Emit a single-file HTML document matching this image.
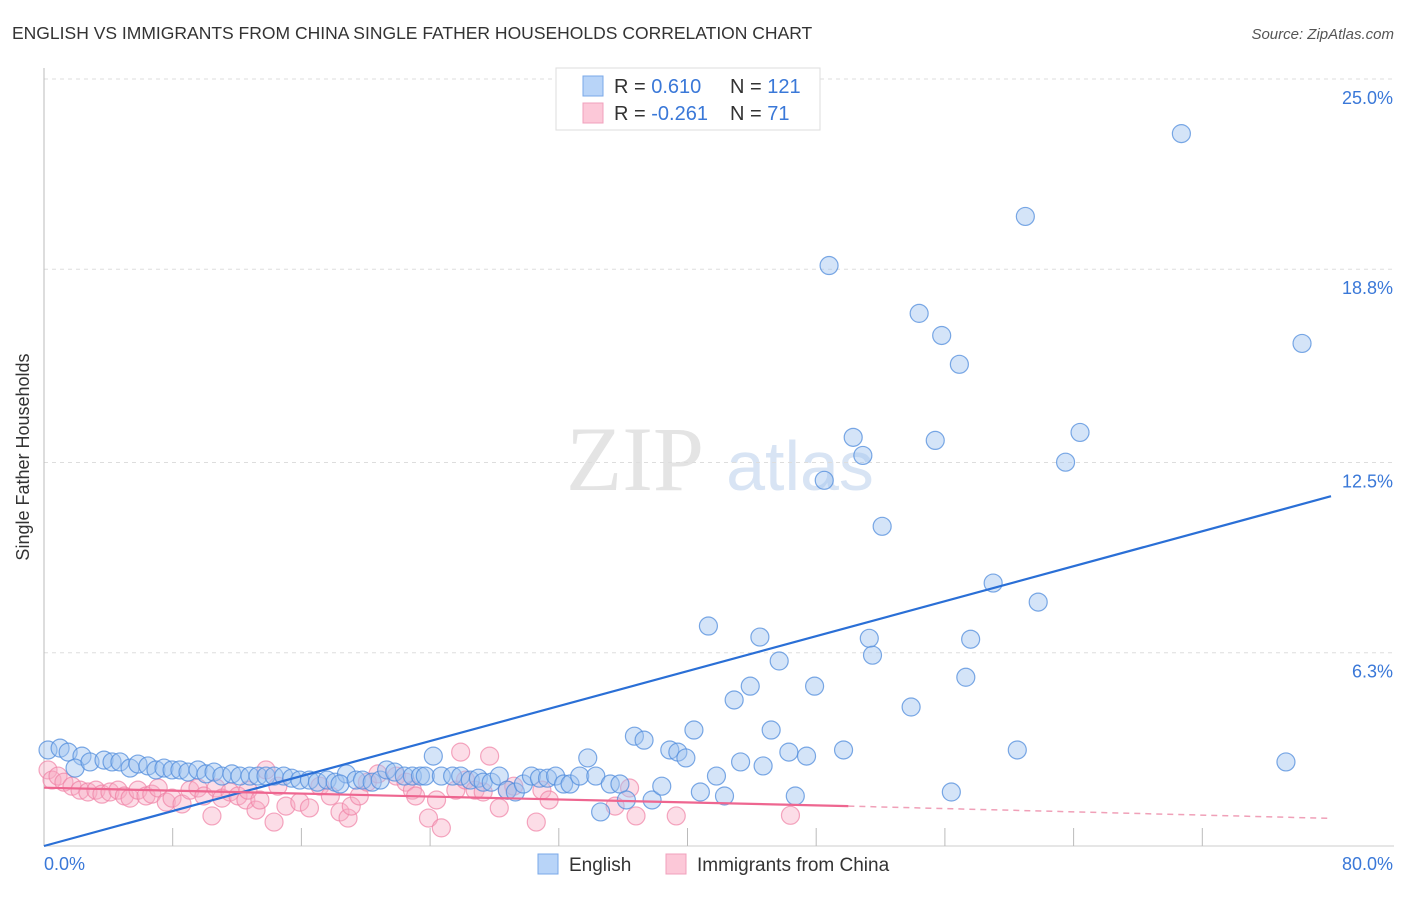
<!DOCTYPE html>
<html><head><meta charset="utf-8"><style>
body{margin:0;background:#fff;font-family:"Liberation Sans",sans-serif}
</style></head><body>
<svg id="chart" width="1406" height="892" xmlns="http://www.w3.org/2000/svg" style="font-family:'Liberation Sans',sans-serif">
<text x="12" y="39" font-size="17.5" fill="#333">ENGLISH VS IMMIGRANTS FROM CHINA SINGLE FATHER HOUSEHOLDS CORRELATION CHART</text>
<text x="1394" y="39" font-size="15" fill="#555" font-style="italic" text-anchor="end">Source: ZipAtlas.com</text>
<text x="29" y="457" font-size="18" fill="#333" text-anchor="middle" transform="rotate(-90 29 457)">Single Father Households</text>
<g><text x="635" y="490" font-size="92" fill="#e4e4e4" font-family="Liberation Serif" text-anchor="middle">ZIP</text><text x="800" y="490" font-size="70" fill="#d8e4f4" text-anchor="middle">atlas</text></g>
<g id="grid"></g><g id="ticks"></g><g id="marks"></g><g id="lines"></g>
<g>
<rect x="556" y="68" width="264" height="62" fill="#fff" stroke="#ddd"/>
<rect x="583" y="76" width="20" height="20" fill="#b8d4f8" stroke="#7aa8e8"/>
<rect x="583" y="103" width="20" height="20" fill="#fcc8d8" stroke="#f0a0bc"/>
<text x="614" y="93" font-size="20" fill="#333">R = <tspan fill="#3a78d8"> 0.610</tspan>  <tspan x="730">N = </tspan><tspan fill="#3a78d8">121</tspan></text>
<text x="614" y="120" font-size="20" fill="#333">R = <tspan fill="#3a78d8">-0.261</tspan>  <tspan x="730">N = </tspan><tspan fill="#3a78d8"> 71</tspan></text>
</g>
<g>
<rect x="538" y="854" width="20" height="20" fill="#b8d4f8" stroke="#7aa8e8"/>
<text x="569" y="871" font-size="19" fill="#333">English</text>
<rect x="666" y="854" width="20" height="20" fill="#fcc8d8" stroke="#f0a0bc"/>
<text x="697" y="871" font-size="19" fill="#333">Immigrants from China</text>
</g>
</svg>
<script>
const blueX=[0.25,1.0,1.5,2.36,1.93,2.86,3.73,4.23,4.72,5.35,5.84,6.46,6.96,7.46,7.96,8.45,8.95,9.57,10.07,10.57,11.06,11.68,12.18,12.8,13.3,13.8,14.3,14.9,15.4,15.9,16.5,17.0,17.6,18.1,18.8,18.4,19.4,19.8,20.4,20.9,21.3,21.8,22.4,22.9,23.4,23.7,24.2,24.7,25.4,25.9,26.5,27.0,27.3,27.8,28.3,28.8,29.3,29.8,30.3,30.8,31.3,31.8,32.3,32.7,33.3,33.8,34.3,34.6,35.2,35.8,36.2,36.7,37.3,37.8,38.4,38.9,39.4,39.9,40.4,40.8,41.3,41.8,42.3,42.9,43.3,43.9,44.5,44.7,45.2,45.7,46.3,46.7,47.4,47.9,48.5,48.8,49.7,50.3,50.9,51.3,51.5,52.1,53.9,54.4,55.4,55.8,56.4,56.9,57.3,57.6,59.0,60.5,61.0,61.8,63.5,64.4,70.7,77.2,78.2];
const blueY=[3.13,3.19,3.06,2.93,2.54,2.74,2.8,2.74,2.74,2.54,2.67,2.61,2.48,2.54,2.48,2.48,2.41,2.48,2.35,2.41,2.28,2.35,2.28,2.28,2.28,2.28,2.28,2.28,2.21,2.15,2.15,2.08,2.15,2.08,2.35,2.02,2.15,2.15,2.08,2.15,2.48,2.41,2.28,2.28,2.28,2.28,2.93,2.28,2.28,2.28,2.15,2.21,2.08,2.08,2.28,1.82,1.76,2.02,2.28,2.21,2.21,2.28,2.02,2.02,2.28,2.87,2.28,1.11,2.02,2.02,1.5,3.58,3.45,1.5,1.95,3.13,3.06,2.87,3.78,1.76,7.17,2.28,1.63,4.76,2.74,5.21,6.81,2.61,3.78,6.03,3.06,1.63,2.93,5.21,11.92,18.92,3.13,13.32,12.73,6.77,6.22,10.42,4.53,17.36,13.22,16.64,1.76,15.7,5.5,6.74,8.57,3.13,20.52,7.95,12.51,13.48,23.22,2.74,16.38];
const pinkX=[0.25,0.5,0.87,1.24,1.74,2.24,2.73,3.23,3.6,4.1,4.6,5.0,5.35,5.84,6.34,6.7,7.1,7.6,7.96,8.58,9.07,9.57,9.94,10.44,10.7,11.06,11.56,12.06,12.55,12.68,13.18,13.42,13.8,14.3,14.54,15.04,15.9,16.5,17.15,17.8,18.4,18.9,19.1,19.6,20.1,20.76,21.9,22.5,22.9,23.1,23.9,24.4,24.7,25.6,25.9,26.2,26.8,27.3,27.7,28.3,28.8,29.2,30.6,30.95,31.4,35.5,36.4,36.8,39.3,46.4];
const pinkY=[2.48,2.15,2.28,2.08,1.95,1.82,1.76,1.82,1.69,1.76,1.82,1.63,1.56,1.82,1.63,1.69,1.89,1.43,1.56,1.37,1.82,1.89,1.63,0.98,1.89,1.56,1.76,1.63,1.5,1.82,1.17,1.5,2.48,0.78,1.95,1.3,1.43,1.24,1.95,1.63,1.11,0.91,1.3,1.63,2.08,2.35,2.28,2.08,1.82,1.63,0.91,1.5,0.59,1.82,3.06,2.15,1.82,1.76,2.93,1.24,1.82,1.95,0.78,1.82,1.5,1.3,1.89,0.98,0.98,1.0];
const yTicks=[25,18.8,12.5,6.3];
const yTickLabels=["25.0%","18.8%","12.5%","6.3%"];
const xTicks=[0,8,16,24,32,40,48,56,64,72,80];
const blueTrend=[[0,0],[80,11.4]];
const pinkTrendSolid=[[0,1.9],[50,1.3]];
const pinkTrendDash=[[50,1.3],[80,0.9]];
const NS='http://www.w3.org/2000/svg';
const X0=44,X1=1331,Y0=846,Y25=79;
const sx=v=>X0+(X1-X0)*v/80;
const sy=v=>Y0-(Y0-Y25)*v/25;
function mk(tag,attrs,parent){const e=document.createElementNS(NS,tag);for(const k in attrs)e.setAttribute(k,attrs[k]);parent.appendChild(e);return e;}
const grid=document.getElementById('grid'),ticks=document.getElementById('ticks'),marks=document.getElementById('marks'),lines=document.getElementById('lines');
let ax=mk('line',{x1:X0,y1:68,x2:X0,y2:Y0,stroke:'#bbb'},ticks);


let bx=mk('line',{x1:X0,y1:Y0,x2:1394,y2:Y0,stroke:'#ccc'},ticks);


yTicks.forEach((t,i)=>{
 const g=mk('line',{x1:X0,y1:sy(t),x2:1394,y2:sy(t),stroke:'#ddd','stroke-dasharray':'4,4'},grid);
 
 
 const tx=mk('text',{x:1393,y:sy(t)+25,'font-size':18,fill:'#3a78d8','text-anchor':'end'},ticks);
 tx.textContent=yTickLabels[i];
 
 
});
xTicks.forEach(t=>{
 if(t===0||t===80)return;
 const l=mk('line',{x1:sx(t),y1:828,x2:sx(t),y2:Y0,stroke:'#bbb'},ticks);
 
 
});
let xl0=mk('text',{x:44,y:870,'font-size':18,fill:'#3a78d8'},ticks);xl0.textContent='0.0%';


let xl1=mk('text',{x:1393,y:870,'font-size':18,fill:'#3a78d8','text-anchor':'end'},ticks);xl1.textContent='80.0%';


pinkX.forEach((x,i)=>{
 const c=mk('circle',{cx:sx(x),cy:sy(pinkY[i]),r:9,fill:'rgba(248,170,195,0.4)',stroke:'rgba(240,130,165,0.7)','stroke-width':1.2},marks);
 
 
});
blueX.forEach((x,i)=>{
 const c=mk('circle',{cx:sx(x),cy:sy(blueY[i]),r:9,fill:'rgba(160,196,240,0.45)',stroke:'rgba(80,140,220,0.75)','stroke-width':1.2},marks);
 
 
});
let bl=mk('line',{x1:sx(blueTrend[0][0]),y1:sy(blueTrend[0][1]),x2:sx(blueTrend[1][0]),y2:sy(blueTrend[1][1]),stroke:'#2a6fd6','stroke-width':2.2},lines);


let pl=mk('line',{x1:sx(pinkTrendSolid[0][0]),y1:sy(pinkTrendSolid[0][1]),x2:sx(pinkTrendSolid[1][0]),y2:sy(pinkTrendSolid[1][1]),stroke:'#ee6690','stroke-width':2.2},lines);


let pd=mk('line',{x1:sx(pinkTrendDash[0][0]),y1:sy(pinkTrendDash[0][1]),x2:sx(pinkTrendDash[1][0]),y2:sy(pinkTrendDash[1][1]),stroke:'#f0a0b8','stroke-width':1.5,'stroke-dasharray':'6,5'},lines);


</script>
</body></html>
